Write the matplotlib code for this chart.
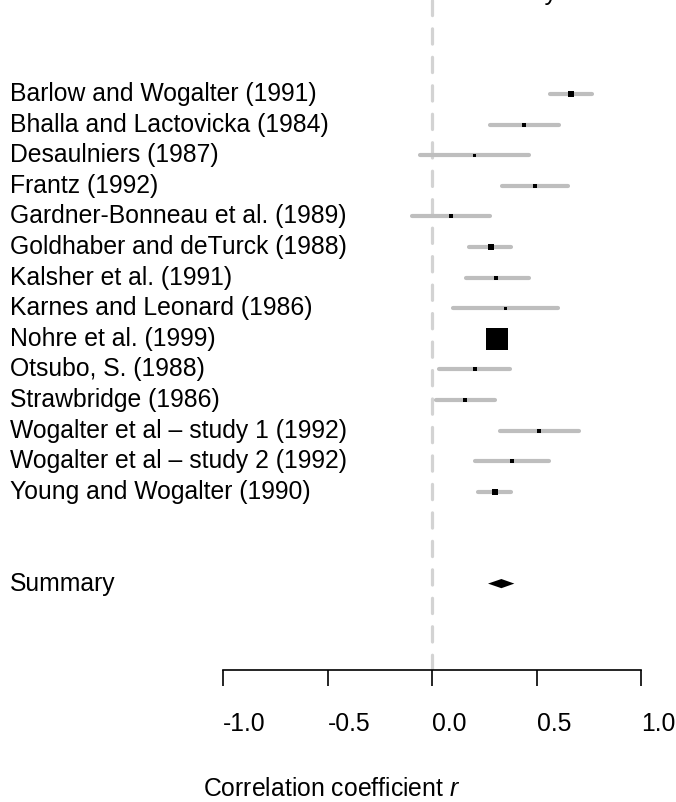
import numpy as np
import matplotlib
matplotlib.use("Agg")
import matplotlib.pyplot as plt
import matplotlib.transforms as mtransforms

plt.rcParams['font.family'] = ['Liberation Sans', 'DejaVu Sans']
plt.rcParams['mathtext.fontset'] = 'custom'
plt.rcParams['mathtext.it'] = 'Liberation Sans:italic'
plt.rcParams['lines.scale_dashes'] = False

# study data
studies = ["Barlow and Wogalter (1991)", "Bhalla and Lactovicka (1984)",
           "Desaulniers (1987)", "Frantz (1992)",
           "Gardner-Bonneau et al. (1989)", "Goldhaber and deTurck (1988)",
           "Kalsher et al. (1991)", "Karnes and Leonard (1986)",
           "Nohre et al. (1999)", "Otsubo, S. (1988)", "Strawbridge (1986)",
           "Wogalter et al \u2013 study 1 (1992)",
           "Wogalter et al \u2013 study 2 (1992)", "Young and Wogalter (1990)"]
r_est = [0.664, 0.442, 0.200, 0.494, 0.091, 0.281, 0.308, 0.349, 0.313,
         0.204, 0.159, 0.510, 0.383, 0.301]
ci_lo = [0.565, 0.279, -0.056, 0.333, -0.094, 0.175, 0.163, 0.102, 0.300,
         0.035, 0.019, 0.327, 0.207, 0.222]
ci_hi = [0.764, 0.606, 0.463, 0.649, 0.276, 0.380, 0.463, 0.605, 0.326,
         0.373, 0.300, 0.702, 0.560, 0.380]
weights = [36, 16, 9, 16, 16, 36, 16, 9, 484, 25, 25, 12, 25, 42]

summary_label = "Summary"
summary_est = 0.332
summary_lo = 0.268
summary_hi = 0.394

xticks = [-1.0, -0.5, 0.0, 0.5, 1.0]
xtick_labels = ["-1.0", "-0.5", "0.0", "0.5", "1.0"]

W, H = 676, 802
fig = plt.figure(figsize=(W / 100, H / 100), dpi=100)
ax = fig.add_axes([223 / W, 1 - 670 / H, 418 / W, 670 / H])

row_px = 30.6
top_row = -94 / row_px
bot_row = (670 - 94) / row_px
ax.set_xlim(-1, 1)
ax.set_ylim(bot_row, top_row)

rows = np.arange(len(studies))
summary_row = len(studies) + 2

# null line
ax.plot([0, 0], [bot_row, top_row], color='#d3d3d3', lw=2.3,
        dashes=(11, 9.5), solid_capstyle='round', dash_capstyle='round', zorder=1)

for i in range(len(studies)):
    ax.plot([ci_lo[i], ci_hi[i]], [rows[i], rows[i]], color='#bebebe', lw=3,
            solid_capstyle='round', zorder=2)
    ax.plot(r_est[i], rows[i], marker='s', color='black',
            markersize=np.sqrt(weights[i]) * 0.72, markeredgewidth=0, zorder=3)

dh = 0.15
ax.fill([summary_lo, summary_est, summary_hi, summary_est],
        [summary_row, summary_row - dh, summary_row, summary_row + dh],
        color='black', lw=0, zorder=3)

tr = mtransforms.blended_transform_factory(fig.transFigure, ax.transData)
for i, s in enumerate(studies):
    ax.text(10 / W, rows[i], s, transform=tr, fontsize=17.8, va='center',
            ha='left', clip_on=False)
ax.text(10 / W, summary_row, summary_label, transform=tr, fontsize=17.8,
        va='center', ha='left', clip_on=False)

# header (cut off at top in the original)
fig.text(558 / W, 1.0, "Study", fontsize=17.8, ha='right', va='baseline')

for sp in ['top', 'left', 'right']:
    ax.spines[sp].set_visible(False)
ax.spines['bottom'].set_linewidth(1.2)
ax.set_yticks([])
ax.set_xticks(xticks)
ax.set_xticklabels(xtick_labels, fontsize=17.8, ha='left')
ax.tick_params(axis='x', direction='out', length=11.5, width=1.2, pad=18.5)

fig.text(203 / W, 1 - 789 / H, "Correlation coefficient $r$", fontsize=17.8,
         ha='left', va='center')

fig.savefig("out.png", dpi=100)
